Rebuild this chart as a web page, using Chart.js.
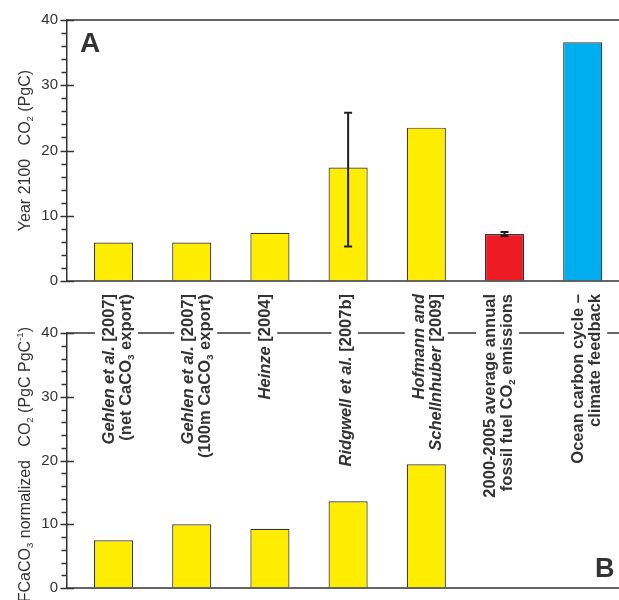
<!DOCTYPE html>
<html>
<head>
<meta charset="utf-8">
<script src="https://cdn.jsdelivr.net/npm/chart.js@4.4.1/dist/chart.umd.min.js"></script>
<style>
  html, body { margin: 0; padding: 0; background: #fff; overflow: hidden; }
  #wrap { position: relative; width: 619px; height: 600px; }
  #wrap canvas { position: absolute; left: 0; top: 0; }
</style>
</head>
<body>
<div id="wrap">
  <canvas id="chartA" width="619" height="600"></canvas>
  <canvas id="chartB" width="619" height="600"></canvas>
</div>
<script>
// values (PgC and PgC per PgC)
const panelA = [5.9, 5.9, 7.4, 17.4, 23.5, 7.2, 36.6];
const panelB = [7.5, 10.0, 9.3, 13.6, 19.4, null, null];
const errLowA = [null, null, null, 5.3, null, 6.9, null];
const errHighA = [null, null, null, 25.8, null, 7.5, null];
const barColors = ['#FFED00', '#FFED00', '#FFED00', '#FFED00', '#FFED00', '#ED1C24', '#00AEEF'];
const yMax = 40;
const yMinor = 2;
const yMajor = 10;

// category labels: lines of [text, style] segments
const categoryLabels = [
  [[['Gehlen et al.', 'i'], [' [2007]']], [['(net CaCO'], ['3', 'sub'], [' export)']]],
  [[['Gehlen et al.', 'i'], [' [2007]']], [['(100m CaCO'], ['3', 'sub'], [' export)']]],
  [[['Heinze', 'i'], [' [2004]']]],
  [[['Ridgwell et al.', 'i'], [' [2007b]']]],
  [[['Hofmann and', 'i']], [['Schellnhuber', 'i'], [' [2009]']]],
  [[['2000-2005 average annual']], [['fossil fuel CO'], ['2', 'sub'], [' emissions']]],
  [[['Ocean carbon cycle \u2013']], [['climate feedback']]]
];
const labelNudge = [3, 4, -6, -3.5, 0, -7, 3];

const titleA = [['Year 2100   CO'], ['2', 'sub'], [' (PgC)']];
const titleB = [['\u0394FCaCO'], ['3', 'sub'], [' normalized   CO'], ['2', 'sub'], [' (PgC PgC'], ['-1', 'sup'], [')']];

const FONT = '"Liberation Sans", Arial, Helvetica, sans-serif';
const INK = '#333';

function segFont(k, size, weight) {
  const small = k === 'sub' || k === 'sup';
  return (k === 'i' ? 'italic ' : '') + weight + ' ' + (small ? size * 0.6 : size) + 'px ' + FONT;
}
function richWidth(ctx, segs, size, weight) {
  let w = 0;
  segs.forEach(([t, k]) => { ctx.font = segFont(k, size, weight); w += ctx.measureText(t).width; });
  return w;
}
function drawRich(ctx, segs, u0, vBase, size, weight) {
  let u = u0;
  ctx.textBaseline = 'alphabetic';
  ctx.textAlign = 'left';
  segs.forEach(([t, k]) => {
    ctx.font = segFont(k, size, weight);
    const dv = k === 'sub' ? size * 0.2 : k === 'sup' ? -size * 0.42 : 0;
    ctx.fillText(t, u, vBase + dv);
    u += ctx.measureText(t).width;
  });
}

function yScale() {
  return {
    min: 0, max: yMax,
    afterFit: s => { s.width = 67; },
    ticks: { stepSize: yMajor, padding: 3, color: INK, font: { family: FONT, size: 15 } },
    grid: { drawOnChartArea: false, tickLength: 6, tickColor: 'rgba(0,0,0,0)' },
    border: { color: INK, width: 1.5 }
  };
}
const xScale = { type: 'linear', min: -0.595, max: 6.464, display: false, offset: false };

// tick marks + frame lines
function frame(chart) {
  const ctx = chart.ctx, a = chart.chartArea, y = chart.scales.y;
  ctx.save();
  ctx.strokeStyle = INK;
  ctx.lineWidth = 1.5;
  ctx.beginPath();
  ctx.moveTo(a.left, a.bottom); ctx.lineTo(619, a.bottom);
  ctx.moveTo(a.left, a.top); ctx.lineTo(619, a.top);
  for (let v = 0; v <= yMax; v += yMinor) {
    const py = Math.round(y.getPixelForValue(v)) + 0.5;
    const major = v % yMajor === 0;
    ctx.moveTo(a.left - (major ? 6.5 : 5.5), py);
    ctx.lineTo(major ? a.left + 7 : a.left, py);
  }
  ctx.stroke();
  ctx.restore();
}

const panelAPlugin = {
  id: 'panelA',
  afterDraw(chart) {
    const ctx = chart.ctx, x = chart.scales.x, y = chart.scales.y;
    frame(chart);
    ctx.save();
    // error bars
    ctx.strokeStyle = '#231F20';
    ctx.lineWidth = 2;
    errLowA.forEach((lo, i) => {
      if (lo === null) return;
      const px = x.getPixelForValue(i), y1 = y.getPixelForValue(lo), y2 = y.getPixelForValue(errHighA[i]);
      ctx.beginPath();
      ctx.moveTo(px, y1); ctx.lineTo(px, y2);
      ctx.moveTo(px - 4, y1); ctx.lineTo(px + 4, y1);
      ctx.moveTo(px - 4, y2); ctx.lineTo(px + 4, y2);
      ctx.stroke();
    });
    ctx.fillStyle = INK;
    ctx.font = 'bold 28px ' + FONT;
    ctx.textBaseline = 'alphabetic';
    ctx.fillText('A', 80, 52);
    // axis title
    ctx.translate(29.5, 150.5);
    ctx.rotate(-Math.PI / 2);
    const w = richWidth(ctx, titleA, 16, 'normal');
    drawRich(ctx, titleA, -w / 2, 0, 16, 'normal');
    ctx.restore();
  }
};

const panelBPlugin = {
  id: 'panelB',
  afterDraw(chart) {
    const ctx = chart.ctx, x = chart.scales.x;
    frame(chart);
    ctx.save();
    ctx.fillStyle = INK;
    ctx.font = 'bold 27px ' + FONT;
    ctx.textBaseline = 'alphabetic';
    ctx.fillText('B', 595, 577);
    ctx.restore();

    // axis title
    ctx.save();
    ctx.fillStyle = INK;
    ctx.translate(29.5, 327);
    ctx.rotate(-Math.PI / 2);
    const tw = richWidth(ctx, titleB, 16, 'normal');
    drawRich(ctx, titleB, -tw, 0, 16, 'normal');
    ctx.restore();

    // rotated category labels across the gap between panels
    const f = 16.5, pitch = 16.5, yTop = 294;
    categoryLabels.forEach((lines, i) => {
      const cx = x.getPixelForValue(i) + labelNudge[i];
      const n = lines.length;
      const widths = lines.map(l => richWidth(ctx, l, f, 'bold'));
      const maxW = Math.max(...widths);
      ctx.save();
      ctx.translate(cx, yTop);
      ctx.rotate(-Math.PI / 2);
      const half = (n - 1) / 2 * pitch + 0.5 * f;
      ctx.fillStyle = '#fff';
      ctx.fillRect(-maxW - 3, -half - 5, maxW + 6, 2 * half + 10);
      ctx.fillStyle = INK;
      lines.forEach((segs, j) => {
        const vc = (j - (n - 1) / 2) * pitch;
        drawRich(ctx, segs, -widths[j], vc + 0.36 * f, f, 'bold');
      });
      ctx.restore();
    });
  }
};

const barStyle = { borderColor: INK, borderWidth: 1.2, barPercentage: 0.5, categoryPercentage: 1 };

new Chart(document.getElementById('chartA'), {
  type: 'bar',
  data: {
    datasets: [Object.assign({
      data: panelA.map((v, i) => ({ x: i, y: v })),
      backgroundColor: barColors
    }, barStyle)]
  },
  options: {
    responsive: false, animation: false,
    layout: { padding: { top: 20, bottom: 600 - 281, left: 0, right: 0 } },
    plugins: { legend: { display: false }, tooltip: { enabled: false } },
    scales: { x: xScale, y: yScale() }
  },
  plugins: [panelAPlugin]
});

new Chart(document.getElementById('chartB'), {
  type: 'bar',
  data: {
    datasets: [Object.assign({
      data: panelB.map((v, i) => ({ x: i, y: v })).filter(p => p.y !== null),
      backgroundColor: barColors[0]
    }, barStyle)]
  },
  options: {
    responsive: false, animation: false,
    layout: { padding: { top: 333, bottom: 6, left: 0, right: 0 } },
    plugins: { legend: { display: false }, tooltip: { enabled: false } },
    scales: { x: xScale, y: yScale() }
  },
  plugins: [panelBPlugin]
});
</script>
</body>
</html>
